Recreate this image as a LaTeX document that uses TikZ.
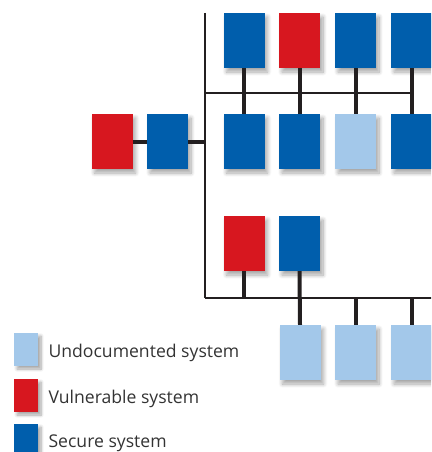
\documentclass[tikz,border=0pt]{standalone}
\usepackage{fontspec}
\setmainfont{Open Sans}
\usepackage{tikz}
\usetikzlibrary{shadows.blur}

\definecolor{secblue}{RGB}{0,94,172}
\definecolor{vulnred}{RGB}{215,23,31}
\definecolor{undoc}{RGB}{163,200,234}
\definecolor{wire}{RGB}{35,31,32}

\begin{document}
\begin{tikzpicture}[x=1pt, y=-1pt,
    sysbox/.style={minimum width=41pt, minimum height=55pt, inner sep=0pt, blur shadow={shadow blur steps=8, shadow xshift=3pt, shadow yshift=-4pt, shadow blur radius=4pt, shadow opacity=35}},
    keybox/.style={minimum width=24pt, minimum height=33pt, inner sep=0pt, blur shadow={shadow blur steps=8, shadow xshift=3pt, shadow yshift=-3pt, shadow blur radius=3pt, shadow opacity=35}},
    link/.style={wire, line width=4pt},
    bus/.style={wire, line width=2.5pt},
    keytext/.style={anchor=west, font=\fontsize{17.6}{20}\selectfont, text=black!80}]
        \clip (0,0) rectangle (431,452);

        % Bus coordinates
        \coordinate (trunk) at (205,13);
        \coordinate (busA) at (205,93);
        \coordinate (busB) at (205,298);
        \coordinate (busEnd) at (440,298);

        % Top row
        \node at (244,40.5) [sysbox, fill=secblue] (t1) {};
        \node at (299.5,40.5) [sysbox, fill=vulnred] (t2) {};
        \node at (355.5,40.5) [sysbox, fill=secblue] (t3) {};
        \node at (411.5,40.5) [sysbox, fill=secblue] (t4) {};

        % Middle row
        \node at (244,141.5) [sysbox, fill=secblue] (m1) {};
        \node at (299.5,141.5) [sysbox, fill=secblue] (m2) {};
        \node at (355.5,141.5) [sysbox, fill=undoc] (m3) {};
        \node at (411.5,141.5) [sysbox, fill=secblue] (m4) {};

        % Left pair
        \node at (112,141.5) [sysbox, fill=vulnred] (lv) {};
        \node at (167.5,141.5) [sysbox, fill=secblue] (ls) {};

        % Lower pair
        \node at (244,243.5) [sysbox, fill=vulnred] (p1) {};
        \node at (299.5,243.5) [sysbox, fill=secblue] (p2) {};

        % Bottom row
        \node at (300,352.5) [sysbox, fill=undoc] (b1) {};
        \node at (355.5,352.5) [sysbox, fill=undoc] (b2) {};
        \node at (411.5,352.5) [sysbox, fill=undoc] (b3) {};

        % Legend
        \node at (26,349.5) [keybox, fill=undoc] (ku) {};
        \node at (26,395.5) [keybox, fill=vulnred] (kv) {};
        \node at (26,440.5) [keybox, fill=secblue] (ks) {};
        \node at (45,353) [keytext] (tu) {Undocumented system};
        \node at (45,399) [keytext] (tv) {Vulnerable system};
        \node at (45,443) [keytext] (ts) {Secure system};

        % Buses
        \draw[wire, line width=2pt] (trunk) -- (busB);
        \draw[bus] (busA) -- (t4.south |- busA);
        \draw[bus] (busB) -- (busEnd);

        % Links
        \foreach \i in {1,...,4}
            \draw[link] (t\i.south) -- (m\i.north);
        \draw[link] (lv.east) -- (ls.west);
        \draw[link] (ls.east) -- (ls.east -| busA);
        \draw[link] (p1.south) -- (p1.south |- busB);
        \draw[link] (p2.south) -- (b1.north);
        \draw[link] (b2.north) -- (b2.north |- busB);
        \draw[link] (b3.north) -- (b3.north |- busB);

    \end{tikzpicture}
\end{document}
